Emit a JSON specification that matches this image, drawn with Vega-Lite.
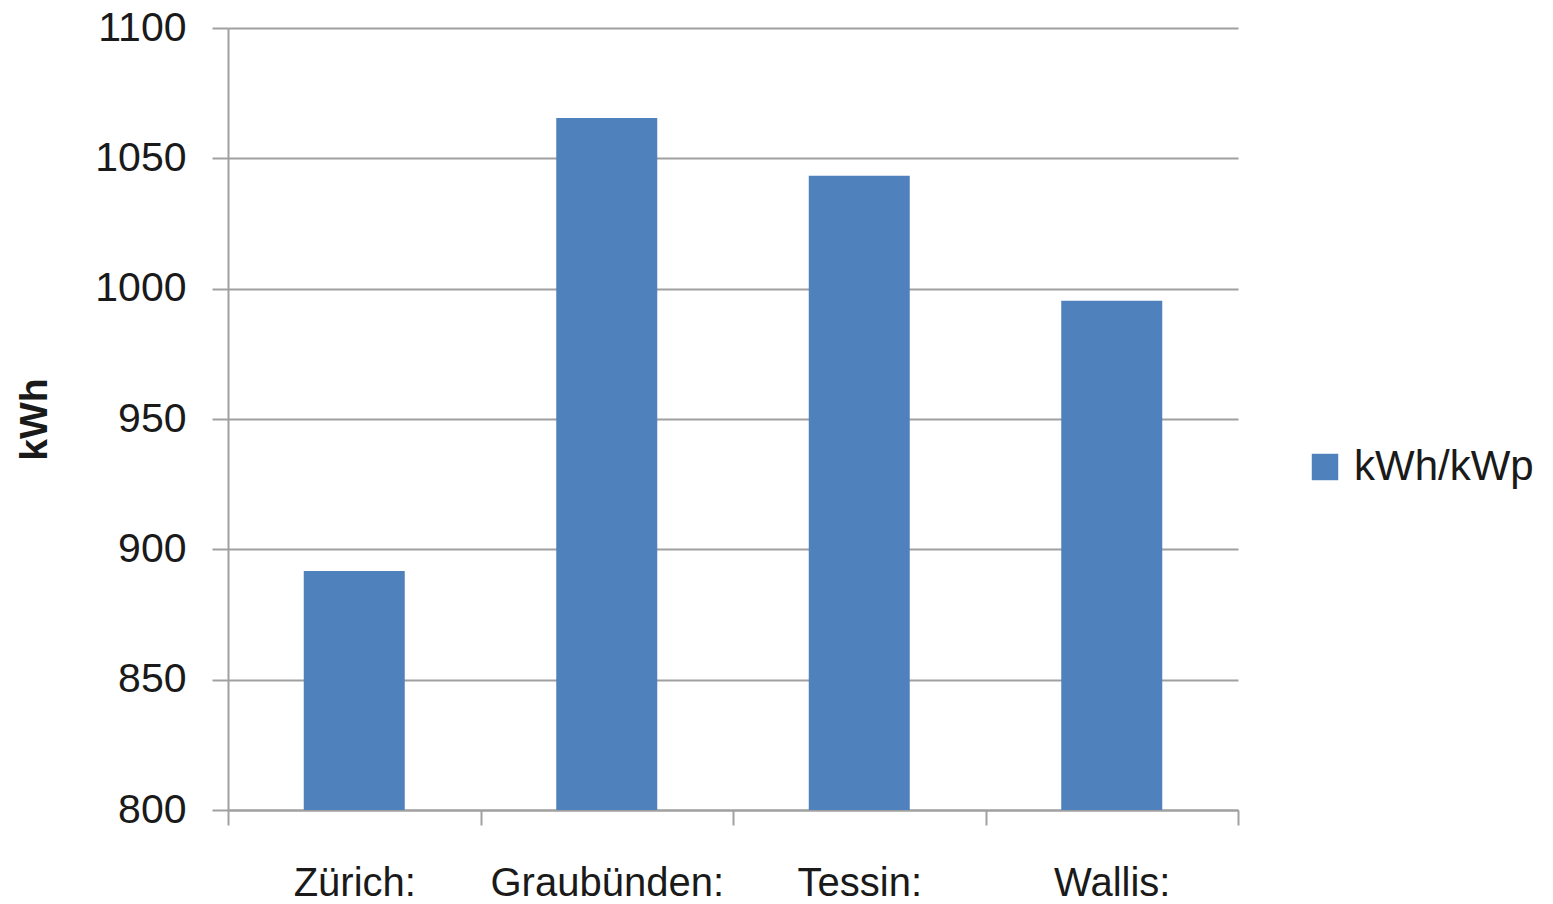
{
  "$schema": "https://vega.github.io/schema/vega-lite/v6.json",
  "width": 1010,
  "height": 782,
  "autosize": {"type": "none"},
  "padding": {"left": 228, "top": 28, "right": 315, "bottom": 94},
  "background": "white",
  "config": {
    "view": {"stroke": null},
    "font": "Liberation Sans"
  },
  "data": {
    "values": [
      {"region": "Zürich:", "value": 891.7, "series": "kWh/kWp"},
      {"region": "Graubünden:", "value": 1065.5, "series": "kWh/kWp"},
      {"region": "Tessin:", "value": 1043.3, "series": "kWh/kWp"},
      {"region": "Wallis:", "value": 995.4, "series": "kWh/kWp"}
    ]
  },
  "mark": {"type": "bar", "color": "#4F81BD", "clip": true, "width": {"band": 0.4}},
  "encoding": {
    "x": {
      "field": "region",
      "type": "nominal",
      "sort": null,
      "scale": {"paddingInner": 0, "paddingOuter": 0},
      "axis": {
        "title": null,
        "labelAngle": 0,
        "labelFontSize": 40,
        "labelLimit": 0,
        "labelColor": "#1a1a1a",
        "labelPadding": 38,
        "tickBand": "extent",
        "tickSize": 15,
        "tickColor": "#a0a0a0",
        "tickWidth": 2,
        "domainColor": "#a0a0a0",
        "domainWidth": 2,
        "grid": false
      }
    },
    "y": {
      "field": "value",
      "type": "quantitative",
      "scale": {"domain": [800, 1100], "zero": false, "nice": false},
      "axis": {
        "title": "kWh",
        "titleFontSize": 39,
        "titleFontWeight": "bold",
        "titleColor": "#1a1a1a",
        "titlePadding": 40,
        "format": "d",
        "values": [800, 850, 900, 950, 1000, 1050, 1100],
        "labelFontSize": 41,
        "labelColor": "#1a1a1a",
        "labelPadding": 26,
        "tickSize": 16,
        "tickColor": "#a0a0a0",
        "tickWidth": 2,
        "domainColor": "#a0a0a0",
        "domainWidth": 2,
        "grid": true,
        "gridColor": "#a0a0a0",
        "gridWidth": 2
      }
    },
    "fill": {
      "field": "series",
      "type": "nominal",
      "scale": {"range": ["#4F81BD"]},
      "legend": {
        "title": null,
        "orient": "none",
        "legendX": 1076,
        "legendY": 418,
        "symbolType": "square",
        "symbolSize": 700,
        "symbolStrokeWidth": 0,
        "labelFontSize": 42,
        "labelLimit": 0,
        "labelColor": "#1a1a1a",
        "labelOffset": 8
      }
    }
  }
}
